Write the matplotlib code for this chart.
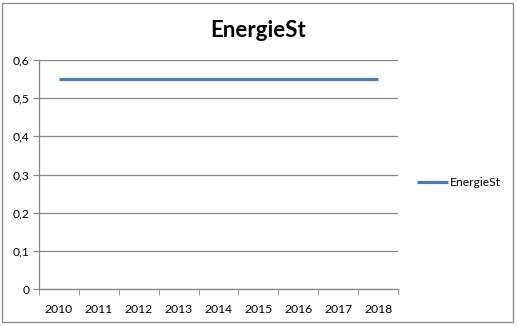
import matplotlib.pyplot as plt
from matplotlib.patches import Rectangle

# Jahreswerte
jahre = ["2010", "2011", "2012", "2013", "2014", "2015", "2016", "2017", "2018"]
werte = [0.55, 0.55, 0.55, 0.55, 0.55, 0.55, 0.55, 0.55, 0.55]
y_ticks = [0, 0.1, 0.2, 0.3, 0.4, 0.5, 0.6]
y_labels = ["0", "0,1", "0,2", "0,3", "0,4", "0,5", "0,6"]

plt.rcParams["font.family"] = ["Lato", "DejaVu Sans"]
grau = "#868686"
blau = "#4A7EBB"

fig = plt.figure(figsize=(5.17, 3.26), dpi=100)
ax = fig.add_axes([39 / 517, 37 / 326, 359 / 517, 229 / 326])

x = list(range(len(jahre)))
ax.plot(x, werte, color=blau, linewidth=2.3, solid_capstyle="butt", label="EnergieSt")

ax.set_xlim(-0.5, len(jahre) - 0.5)
ax.set_ylim(0, 0.6)
ax.set_yticks(y_ticks)
ax.set_yticklabels(y_labels)
ax.set_xticks(x)
ax.set_xticklabels(jahre)
# Striche an den Kategoriegrenzen
ax.set_xticks([i - 0.5 for i in range(len(jahre) + 1)], minor=True)
ax.tick_params(axis="x", which="major", length=0, pad=11, labelsize=8.7, colors="black")
ax.tick_params(axis="x", which="minor", length=4, direction="out", color=grau)
ax.tick_params(axis="y", length=4, direction="out", color=grau, labelsize=8.7, pad=3)

ax.grid(axis="y", color=grau, linewidth=0.9)
ax.set_axisbelow(True)
for s in ["top", "right"]:
    ax.spines[s].set_visible(False)
for s in ["left", "bottom"]:
    ax.spines[s].set_color(grau)
    ax.spines[s].set_linewidth(0.9)

fig.text(0.5, 0.905, "EnergieSt", ha="center", va="center", fontsize=16, fontweight="bold")

fig.legend(loc="center left", bbox_to_anchor=(406 / 517, 1 - 183 / 326), frameon=False,
           fontsize=8.7, handlelength=2.6, handletextpad=0.1)

# Rahmen um das Diagramm
fig.patches.append(Rectangle((2 / 517, 4 / 326), 511 / 517, 319 / 326, transform=fig.transFigure,
                             fill=False, edgecolor=grau, linewidth=0.9))

fig.savefig("out.png", dpi=100)
